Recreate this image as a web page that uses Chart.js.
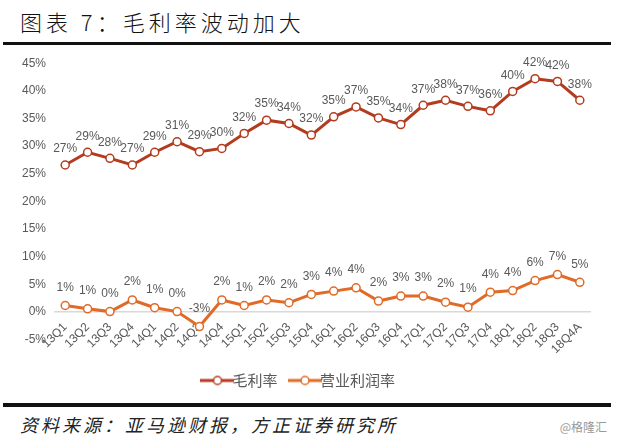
<!DOCTYPE html>
<html>
<head>
<meta charset="utf-8">
<script src="https://cdn.jsdelivr.net/npm/chart.js@4/dist/chart.umd.min.js"></script>
<style>
  body { margin: 0; width: 619px; height: 440px; background: #fff; position: relative; overflow: hidden; font-family: "Noto Sans CJK SC", sans-serif; }
  #title { position: absolute; left: 20px; top: 5px; font-size: 22px; color: #111; letter-spacing: 4px; font-weight: 300; }
  #topline { position: absolute; left: 3px; top: 42px; width: 608px; height: 3px; background: #111; }
  #chartBox { position: absolute; left: 0; top: 48px; width: 619px; height: 350px; }
  #botline { position: absolute; left: 3px; top: 403px; width: 608px; height: 4px; background: #111; }
  #source { position: absolute; left: 20px; top: 411px; font-size: 18px; color: #222; font-style: italic; letter-spacing: 3px; }
  #mark { position: absolute; right: 12px; top: 418px; font-size: 12px; color: #999; }
</style>
</head>
<body>
<div id="title">图表 7：毛利率波动加大</div>
<div id="topline"></div>
<div id="chartBox"><canvas id="chart"></canvas></div>
<div id="botline"></div>
<div id="source">资料来源：亚马逊财报，方正证券研究所</div>
<div id="mark">@格隆汇</div>
<script>
var quarters = ['13Q1','13Q2','13Q3','13Q4','14Q1','14Q2','14Q3','14Q4','15Q1','15Q2','15Q3','15Q4',
                '16Q1','16Q2','16Q3','16Q4','17Q1','17Q2','17Q3','17Q4','18Q1','18Q2','18Q3','18Q4A'];
var grossMargin = [26.6, 28.9, 27.8, 26.6, 28.9, 30.8, 29.0, 29.6, 32.3, 34.7, 34.1, 32.0,
                   35.3, 37.1, 35.1, 33.9, 37.4, 38.3, 37.2, 36.4, 39.9, 42.2, 41.7, 38.3];
var opMargin = [1.2, 0.6, 0.1, 2.2, 0.8, 0.1, -2.6, 2.2, 1.2, 2.2, 1.7, 3.2,
                3.8, 4.4, 2.0, 2.9, 2.9, 1.8, 0.9, 3.6, 3.9, 5.7, 6.8, 5.4];
var seriesNames = ['毛利率', '营业利润率'];
var colors = ['#B33B1F', '#E06A27'];

// legend marker: a short line with a hollow circle
function legendIcon(color) {
    var c = document.createElement('canvas');
    c.width = 34; c.height = 12;
    var g = c.getContext('2d');
    g.strokeStyle = color; g.lineWidth = 3;
    g.beginPath(); g.moveTo(0, 6); g.lineTo(34, 6); g.stroke();
    g.fillStyle = '#fff'; g.lineWidth = 1.5;
    g.beginPath(); g.arc(17, 6, 4, 0, Math.PI * 2); g.fill(); g.stroke();
    return c;
}

var valueLabels = {
    id: 'valueLabels',
    afterDatasetsDraw: function(chart) {
        var ctx = chart.ctx;
        ctx.save();
        ctx.font = '12px "Liberation Sans", Arial, sans-serif';
        ctx.fillStyle = '#595959';
        ctx.textAlign = 'center';
        ctx.textBaseline = 'bottom';
        chart.data.datasets.forEach(function(ds, i) {
            var meta = chart.getDatasetMeta(i);
            meta.data.forEach(function(pt, j) {
                var v = Math.round(ds.data[j]);
                ctx.fillText(v + '%', pt.x, pt.y - (i == 0 ? 10 : 12));
            });
        });
        ctx.restore();
    }
};

var ctx = document.getElementById('chart').getContext('2d');
var myChart = new Chart(ctx, {
    type: 'line',
    data: {
        labels: quarters,
        datasets: [{
            label: seriesNames[0],
            data: grossMargin,
            borderColor: colors[0],
            borderWidth: 3,
            pointRadius: 4,
            pointBorderWidth: 1.5,
            pointBackgroundColor: '#fff',
            pointBorderColor: colors[0],
            tension: 0
        }, {
            label: seriesNames[1],
            data: opMargin,
            borderColor: colors[1],
            borderWidth: 3,
            pointRadius: 4,
            pointBorderWidth: 1.5,
            pointBackgroundColor: '#fff',
            pointBorderColor: colors[1],
            tension: 0
        }]
    },
    options: {
        responsive: true,
        maintainAspectRatio: false,
        animation: false,
        layout: { padding: { left: 14, right: 28, top: 6, bottom: 0 } },
        plugins: {
            tooltip: { enabled: false },
            legend: {
                position: 'bottom',
                title: { display: true, text: ' ', font: { size: 1 }, padding: { top: 12, bottom: 0 } },
                labels: {
                    usePointStyle: true,
                    boxHeight: 12,
                    padding: 20,
                    color: '#595959',
                    font: { size: 15, family: '"Noto Sans CJK SC", sans-serif' },
                    generateLabels: function(chart) {
                        return chart.data.datasets.map(function(ds, i) {
                            return { text: ds.label, pointStyle: legendIcon(colors[i]), fontColor: '#595959', datasetIndex: i, lineWidth: 0 };
                        });
                    }
                }
            }
        },
        scales: {
            x: {
                position: { y: 0 },
                offset: true,
                grid: { display: false, drawTicks: false },
                border: { display: false },
                ticks: { color: '#595959', font: { size: 12, family: '"Liberation Sans", Arial' }, maxRotation: 45, minRotation: 45, padding: 8, autoSkip: false }
            },
            y: {
                min: -5, max: 45,
                grid: {
                    drawTicks: false,
                    color: function(c) { return c.tick && c.tick.value === 0 ? '#d9d9d9' : 'rgba(0,0,0,0)'; },
                    lineWidth: 1.5
                },
                border: { display: false },
                ticks: { stepSize: 5, color: '#595959', padding: 8, font: { size: 12, family: '"Liberation Sans", Arial' },
                         callback: function(v) { return v + '%'; } }
            }
        }
    },
    plugins: [valueLabels]
});
</script>
</body>
</html>
